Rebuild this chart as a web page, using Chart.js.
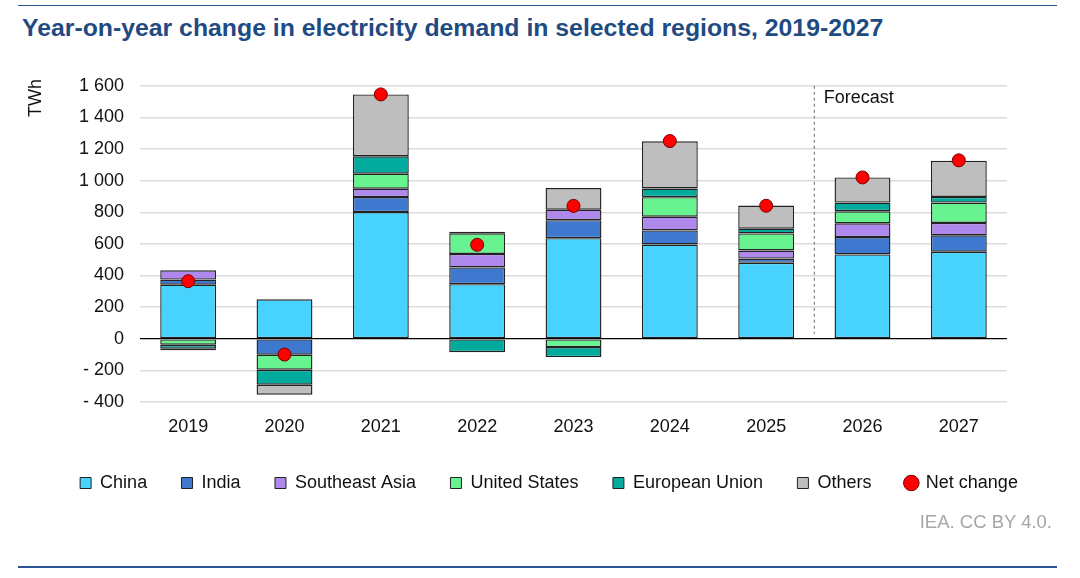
<!DOCTYPE html>
<html>
<head>
<meta charset="utf-8">
<title>Year-on-year change in electricity demand in selected regions, 2019-2027</title>
<script src="https://cdn.jsdelivr.net/npm/chart.js@4.4.1/dist/chart.umd.min.js"></script>
<style>
    body { margin: 0; background: #fff; font-family: "Liberation Sans", Arial, sans-serif; }
    #wrap { position: relative; width: 1080px; height: 578px; overflow: hidden; }
    .rule { position: absolute; left: 18px; width: 1039px; height: 1.6px; background: #2a5391; }
    #title { position: absolute; left: 22px; top: 16px; font-size: 24.8px; line-height: 1; font-weight: bold; color: #1f4b82; white-space: nowrap; }
    #source { position: absolute; right: 28px; top: 513px; font-size: 18.5px; line-height: 1; color: #a6a6a6; white-space: nowrap; }
    #chartBox { position: absolute; left: 0; top: 0; width: 1080px; height: 578px; }
</style>
</head>
<body>
<div id="wrap">
    <div class="rule" style="top:4.5px"></div>
    <div id="title">Year-on-year change in electricity demand in selected regions, 2019-2027</div>
    <div id="chartBox"><canvas id="demandChart"></canvas></div>
    <div id="source">IEA. CC BY 4.0.</div>
    <div class="rule" style="top:566px"></div>
</div>

<script>
// ================================
// Data (TWh)
// ================================

const years = ["2019", "2020", "2021", "2022", "2023", "2024", "2025", "2026", "2027"];

const china        = [342, 249, 801, 345, 636, 596, 480, 533, 550];
const india        = [32, -101, 95, 106, 114, 89, 27, 110, 104];
const southeastAsia = [59, 0, 53, 85, 66, 87, 51, 87, 78];
const unitedStates = [-38, -95, 95, 131, -53, 123, 108, 76, 129];
const europeanUnion = [-25, -95, 110, -85, -63, 55, 30, 55, 36];
const others       = [-10, -63, 391, 10, 137, 298, 146, 159, 228];
const netChange    = [364, -100, 1545, 594, 840, 1250, 841, 1020, 1128];

const yMin = -400;
const yMax = 1600;
const yStep = 200;

const forecastLabel = "Forecast";
const unitLabel = "TWh";

// ================================
// Helpers
// ================================

const FONT = "'Liberation Sans', Arial, sans-serif";

function formatTick(v) {
    const s = Math.abs(v).toString().replace(/\B(?=(\d{3})+(?!\d))/g, " ");
    return v < 0 ? "- " + s : s;
}

function barSet(label, data, color) {
    return {
        label: label,
        data: data,
        backgroundColor: color,
        borderColor: "#222",
        borderWidth: 1.4,
        borderSkipped: false,
        barPercentage: 0.58,
        categoryPercentage: 1,
        stack: "regions"
    };
}

// forecast divider, unit label
const extras = {
    id: "extras",
    beforeDatasetsDraw(chart) {
        const x = chart.scales.x;
        const y = chart.scales.y;
        const ctx = chart.ctx;
        const mid = (x.getPixelForValue(6) + x.getPixelForValue(7)) / 2;

        ctx.save();
        ctx.strokeStyle = "#808080";
        ctx.lineWidth = 1.2;
        ctx.setLineDash([3, 3]);
        ctx.beginPath();
        ctx.moveTo(mid, y.getPixelForValue(yMax));
        ctx.lineTo(mid, y.getPixelForValue(0) - 5);
        ctx.stroke();
        ctx.restore();
    },
    afterDraw(chart) {
        const x = chart.scales.x;
        const ctx = chart.ctx;
        const mid = (x.getPixelForValue(6) + x.getPixelForValue(7)) / 2;

        ctx.save();
        ctx.fillStyle = "#111";
        ctx.font = "18px " + FONT;
        ctx.textBaseline = "middle";
        ctx.textAlign = "left";
        ctx.fillText(forecastLabel, mid + 9.5, 98);

        ctx.translate(36, 98);
        ctx.rotate(-Math.PI / 2);
        ctx.textAlign = "center";
        ctx.fillText(unitLabel, 0, 0);
        ctx.restore();
    }
};

// ================================
// Chart
// ================================

Chart.defaults.font.family = FONT;
Chart.defaults.font.size = 18;
Chart.defaults.color = "#111";

const ctx = document.getElementById("demandChart").getContext("2d");

const chart = new Chart(ctx, {
    type: "bar",
    data: {
        labels: years,
        datasets: [
            barSet("China", china, "#48d3fe"),
            barSet("India", india, "#3e79cf"),
            barSet("Southeast Asia", southeastAsia, "#af88eb"),
            barSet("United States", unitedStates, "#68f391"),
            barSet("European Union", europeanUnion, "#00ab9d"),
            barSet("Others", others, "#bebebe"),
            {
                type: "line",
                label: "Net change",
                data: netChange,
                showLine: false,
                backgroundColor: "#ff0000",
                borderColor: "#7a0000",
                pointBackgroundColor: "#ff0000",
                pointBorderColor: "#7a0000",
                pointBorderWidth: 1,
                pointRadius: 6.5,
                order: -1,
                stack: "net"
            }
        ]
    },
    options: {
        responsive: true,
        maintainAspectRatio: false,
        animation: false,
        events: [],
        layout: {
            padding: { top: 85.7, left: 18, right: 0, bottom: 76 }
        },
        plugins: {
            tooltip: { enabled: false },
            title: { display: false },
            legend: {
                position: "bottom",
                labels: {
                    usePointStyle: true,
                    boxWidth: 11,
                    boxHeight: 11,
                    padding: 34.4,
                    color: "#111",
                    font: { size: 18 },
                    sort: (a, b) => a.datasetIndex - b.datasetIndex,
                    generateLabels(c) {
                        const items = Chart.defaults.plugins.legend.labels.generateLabels(c);
                        items.forEach(it => {
                            const isLine = c.data.datasets[it.datasetIndex].type === "line";
                            it.pointStyle = isLine ? "circle" : "rect";
                            it.lineWidth = 1;
                            it.strokeStyle = isLine ? "#7a0000" : "#222";
                        });
                        return items;
                    }
                }
            }
        },
        scales: {
            x: {
                stacked: true,
                grid: { display: false },
                border: { display: false },
                ticks: { padding: 6, color: "#111" },
                afterFit(s) { s.height = 37.6; }
            },
            y: {
                stacked: true,
                min: yMin,
                max: yMax,
                ticks: {
                    stepSize: yStep,
                    padding: 16,
                    color: "#111",
                    callback: v => formatTick(v)
                },
                grid: {
                    drawTicks: false,
                    color: c => (c.tick.value === 0 ? "#000" : "#dcdcdc"),
                    lineWidth: c => (c.tick.value === 0 ? 1.3 : 1.4)
                },
                border: { display: false },
                afterFit(s) { s.width = 122; }
            },
            yRight: {
                position: "right",
                display: true,
                grid: { display: false },
                border: { display: false },
                ticks: { display: false },
                afterFit(s) { s.width = 73; }
            }
        }
    },
    plugins: [extras]
});
</script>
</body>
</html>
